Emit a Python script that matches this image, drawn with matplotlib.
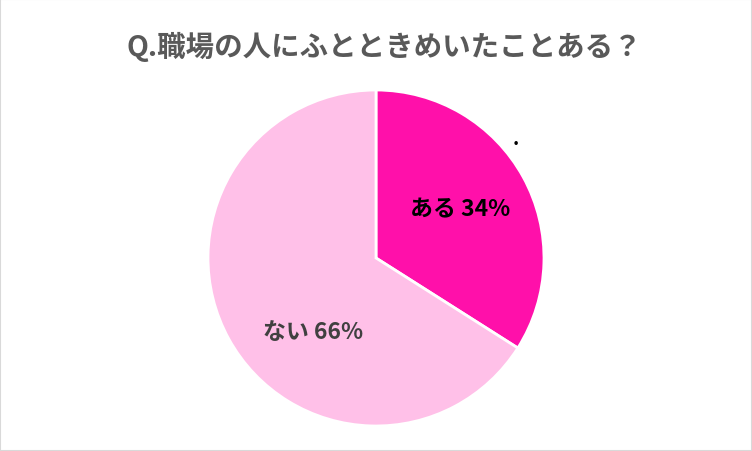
import matplotlib
matplotlib.use('Agg')
import matplotlib.pyplot as plt
from matplotlib.patches import Rectangle

plt.rcParams['font.family'] = ['Noto Sans CJK JP', 'DejaVu Sans']

title = 'Q.職場の人にふとときめいたことある？'
labels = ['ある', 'ない']
values = [34, 66]
colors = ['#FF10AA', '#FFC0E8']
label_colors = ['#000000', '#404040']
label_pos = [(0.50, 0.29), (-0.375, -0.44)]

fig = plt.figure(figsize=(7.52, 4.52), dpi=100)
ax = fig.add_axes([0.2766, 0.0553, 0.4468, 0.7434])

wedges, _ = ax.pie(values, colors=colors, startangle=90, counterclock=False,
                   radius=1, wedgeprops=dict(edgecolor='white', linewidth=2))
ax.set_xlim(-1, 1)
ax.set_ylim(-1, 1)
ax.set_aspect('equal')
ax.axis('off')

for lab, v, c, (x, y) in zip(labels, values, label_colors, label_pos):
    ax.text(x, y, '%s %d%%' % (lab, v), ha='center', va='center',
            fontsize=16.5, fontweight='bold', color=c)

# stray marker seen in the original
fig.text(516 / 752, 1 - 145 / 452, '.', ha='center', va='baseline',
         fontsize=14, fontweight='bold', color='black')

fig.text(384 / 752, 1 - 47 / 452, title, ha='center', va='center',
         fontsize=20.5, fontweight='bold', color='#595959')

fig.patches.append(Rectangle((0, 0), 1, 1, transform=fig.transFigure,
                             fill=False, edgecolor='#D9D9D9', linewidth=1.5))

fig.savefig('out.png', dpi=100)
